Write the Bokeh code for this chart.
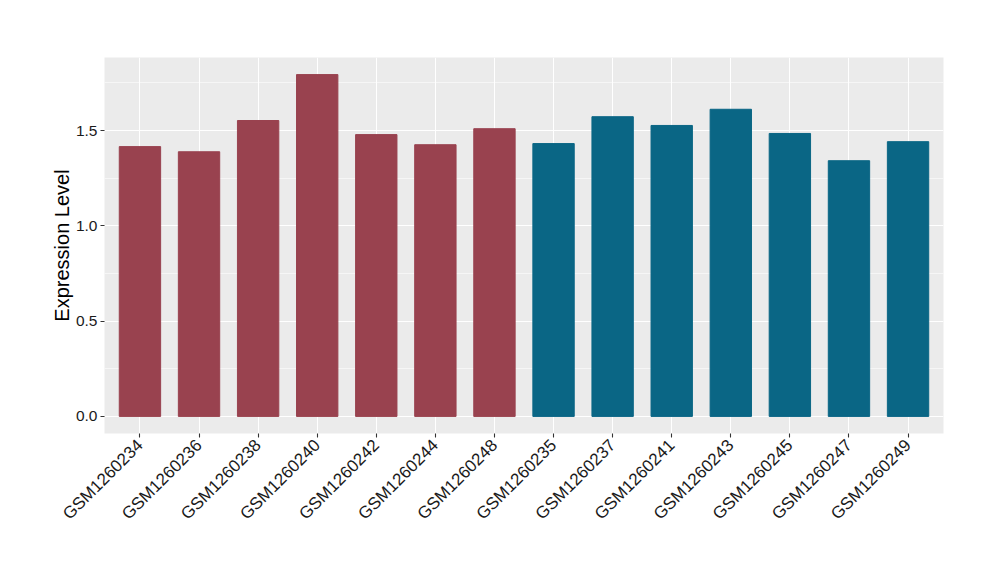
from math import pi
from bokeh.plotting import figure
from bokeh.models import ColumnDataSource, FactorRange, FixedTicker, CustomJSTickFormatter
from bokeh.embed import file_html
from bokeh.resources import INLINE

samples = ["GSM1260234", "GSM1260236", "GSM1260238", "GSM1260240", "GSM1260242",
           "GSM1260244", "GSM1260248", "GSM1260235", "GSM1260237", "GSM1260241",
           "GSM1260243", "GSM1260245", "GSM1260247", "GSM1260249"]
values = [1.416, 1.389, 1.553, 1.794, 1.479, 1.426, 1.510,
          1.432, 1.573, 1.527, 1.612, 1.485, 1.342, 1.442]
groups = ["A"] * 7 + ["B"] * 7
group_colors = {"A": "#99424F", "B": "#0A6685"}
y_ticks = [0.0, 0.5, 1.0, 1.5]
y_minor = [0.25, 0.75, 1.25, 1.75]

src = ColumnDataSource(dict(x=samples, top=values,
                            color=[group_colors[g] for g in groups]))

ymax = max(values)
pad = ymax * 0.05
p = figure(width=984, height=564, output_backend="svg", toolbar_location=None,
           x_range=FactorRange(factors=samples, range_padding=0.1,
                               range_padding_units="absolute"),
           y_range=(-pad, ymax + pad),
           min_border_left=104, min_border_top=57, min_border_right=41,
           min_border_bottom=131)
p.vbar(x="x", top="top", bottom=0, width=0.7, color="color", source=src)

p.background_fill_color = "#EBEBEB"
p.border_fill_color = "white"
p.outline_line_color = None

p.xgrid.grid_line_color = "white"
p.xgrid.grid_line_width = 1.1
p.ygrid.ticker = FixedTicker(ticks=y_ticks, minor_ticks=y_minor)
p.ygrid.grid_line_color = "white"
p.ygrid.grid_line_width = 1.1
p.ygrid.minor_grid_line_color = "white"
p.ygrid.minor_grid_line_width = 0.55

p.yaxis.ticker = FixedTicker(ticks=y_ticks, minor_ticks=y_minor)
p.yaxis.formatter = CustomJSTickFormatter(code="return tick.toFixed(1);")

for ax in (p.xaxis[0], p.yaxis[0]):
    ax.axis_line_color = None
    ax.major_tick_line_color = "#333333"
    ax.major_tick_line_width = 1.1
    ax.major_tick_out = 4
    ax.major_tick_in = 0
    ax.minor_tick_line_color = None
    ax.major_label_text_font = "Liberation Sans"
    ax.major_label_text_font_size = "15.5px"
    ax.major_label_text_color = "#1A1A1A"
    ax.major_label_standoff = 3

p.xaxis.major_label_orientation = pi / 4
p.xaxis.major_label_text_font_size = "17px"
p.xaxis.major_label_standoff = 5

p.yaxis.axis_label = "Expression Level"
p.yaxis.axis_label_text_font = "Liberation Sans"
p.yaxis.axis_label_text_font_size = "20px"
p.yaxis.axis_label_text_font_style = "normal"
p.yaxis.axis_label_text_color = "black"
p.yaxis.axis_label_standoff = 0

open("out.html", "w").write(file_html(p, INLINE))
